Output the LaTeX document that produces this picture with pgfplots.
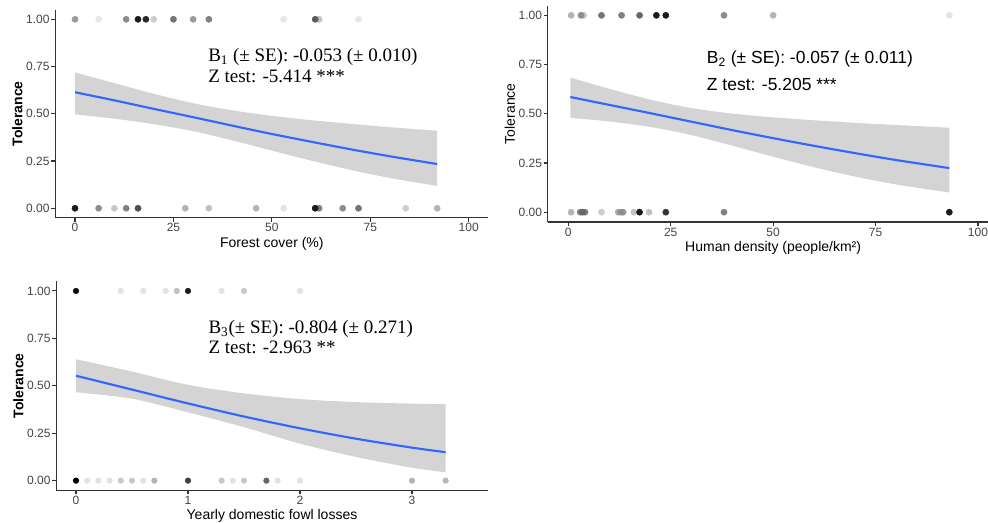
\documentclass[border=0pt]{standalone}
\usepackage{fontspec}
\setmainfont{Liberation Sans}
\newfontfamily\tms{Liberation Serif}
\usepackage{pgfplots}
\pgfplotsset{compat=1.18}
\usepgfplotslibrary{fillbetween}
\definecolor{fitblue}{HTML}{3366FF}
\definecolor{ribbon}{HTML}{D4D4D4}
\definecolor{ticktxt}{HTML}{444444}
\definecolor{axline}{HTML}{333333}

\pgfplotsset{
  colormap={bw}{gray(0cm)=(0); gray(1cm)=(1)},
  panel/.style={
    scale only axis, anchor=north west,
    axis lines=left, axis line style={-, line width=0.9pt, axline},
    ymin=-0.05, ymax=1.05,
    ytick={0,0.25,0.5,0.75,1}, yticklabels={0.00,0.25,0.50,0.75,1.00},
    tick align=outside, major tick length=3pt,
    tick style={line width=0.8pt, axline},
    tick label style={font=\fontsize{9}{10}\selectfont, text=ticktxt, inner sep=1.2pt},
    label style={font=\fontsize{10.5}{12}\selectfont},
    xlabel style={yshift=0.8pt},
    ylabel style={yshift=-2pt},
    ylabel={Tolerance},
    point meta min=0, point meta max=1,
    /pgf/number format/assume math mode=true,
  },
  pts/.style={scatter, only marks, mark=*, mark size=2.3pt, point meta=explicit,
    scatter/use mapped color={draw=mapped color, fill=mapped color}},
  fitline/.style={fitblue, line width=1.6pt, smooth},
}

\begin{document}
\begin{tikzpicture}

% forest cover
\begin{axis}[panel, at={(41.5pt,-7.39pt)}, width=324.8pt, height=155.9pt,
  xmin=-5, xmax=105, xtick={0,25,50,75,100},
  xlabel={Forest cover (\%)}, ylabel style={font=\bfseries\fontsize{10.5}{12}\selectfont}]
  \addplot[name path=u1, draw=none, smooth] coordinates {(0,0.719) (10,0.662) (20,0.606) (30,0.556) (40,0.518) (50,0.489) (60,0.466) (70,0.447) (80,0.429) (92,0.410)};
  \addplot[name path=l1, draw=none, smooth] coordinates {(0,0.497) (10,0.474) (20,0.445) (30,0.408) (40,0.359) (50,0.305) (60,0.252) (70,0.203) (80,0.160) (92,0.118)};
  \addplot[ribbon, draw=none] fill between[of=u1 and l1];
  \addplot[fitline] coordinates {(0,0.614) (10,0.571) (20,0.526) (30,0.482) (40,0.437) (50,0.393) (60,0.352) (70,0.312) (80,0.275) (92,0.234)};
  \addplot[pts] table[x=x, y=y, meta=g] {
x y g
0 1 0.6
6 1 0.9
13 1 0.55
16 1 0.1
18 1 0.15
20 1 0.8
25 1 0.45
30 1 0.6
34 1 0.5
53 1 0.9
62 1 0.75
61 1 0.35
72 1 0.9
0 0 0.1
6 0 0.55
10 0 0.78
13 0 0.5
16 0 0.3
28 0 0.7
34 0 0.75
46 0 0.7
53 0 0.88
62 0 0.5
61 0 0.1
68 0 0.55
72 0 0.45
84 0 0.8
92 0 0.7
};
\end{axis}

% human density
\begin{axis}[panel, at={(410.85pt,-4.13pt)}, width=338pt, height=162.4pt,
  xmin=-5, xmax=105, xtick={0,25,50,75,100},
  xlabel={Human density (people/km²)}]
  \addplot[name path=u2, draw=none, smooth] coordinates {(0.5,0.684) (10,0.627) (20,0.572) (30,0.529) (40,0.501) (50,0.482) (60,0.467) (70,0.454) (80,0.443) (93,0.429)};
  \addplot[name path=l2, draw=none, smooth] coordinates {(0.5,0.479) (10,0.461) (20,0.433) (30,0.392) (40,0.338) (50,0.282) (60,0.228) (70,0.181) (80,0.141) (93,0.100)};
  \addplot[ribbon, draw=none] fill between[of=u2 and l2];
  \addplot[fitline] coordinates {(0.5,0.585) (10,0.545) (20,0.503) (30,0.460) (40,0.417) (50,0.376) (60,0.337) (70,0.300) (80,0.265) (93,0.224)};
  \addplot[pts] table[x=x, y=y, meta=g] {
x y g
0.7 1 0.7
3.7 1 0.75
3.1 1 0.55
8.1 1 0.45
13 1 0.5
17.4 1 0.4
21.5 1 0.1
23.8 1 0.1
38 1 0.55
50 1 0.7
93 1 0.88
0.7 0 0.7
2.9 0 0.5
4.1 0 0.5
3.5 0 0.4
8.1 0 0.8
12.2 0 0.65
13.4 0 0.6
12.9 0 0.55
16 0 0.75
19.7 0 0.75
17.4 0 0.1
23.8 0 0.2
38 0 0.5
93 0 0.1
};
\end{axis}

% fowl losses
\begin{axis}[panel, at={(42.3pt,-211.1pt)}, width=323.4pt, height=156.5pt,
  xmin=-0.175, xmax=3.675, xtick={0,1,2,3},
  xlabel={Yearly domestic fowl losses}, ylabel style={font=\bfseries\fontsize{10.5}{12}\selectfont}]
  \addplot[name path=u3, draw=none, smooth] coordinates {(0,0.640) (0.5,0.575) (1,0.505) (1.5,0.460) (2,0.430) (2.5,0.414) (3,0.406) (3.3,0.403)};
  \addplot[name path=l3, draw=none, smooth] coordinates {(0,0.466) (0.5,0.432) (1,0.360) (1.5,0.282) (2,0.195) (2.5,0.125) (3,0.068) (3.3,0.044)};
  \addplot[ribbon, draw=none] fill between[of=u3 and l3];
  \addplot[fitline] coordinates {(0,0.553) (0.5,0.480) (1,0.407) (1.5,0.338) (2,0.276) (2.5,0.221) (3,0.174) (3.3,0.150)};
  \addplot[pts, mark size=2.1pt] table[x=x, y=y, meta=g] {
x y g
0 1 0.05
0.4 1 0.88
0.6 1 0.88
0.8 1 0.88
0.9 1 0.75
1.0 1 0.1
1.3 1 0.88
1.5 1 0.78
2.0 1 0.88
0 0 0.0
0.1 0 0.88
0.2 0 0.88
0.3 0 0.88
0.4 0 0.78
0.5 0 0.78
0.6 0 0.88
0.7 0 0.7
1.0 0 0.25
1.3 0 0.78
1.4 0 0.88
1.5 0 0.78
1.7 0 0.4
1.8 0 0.88
2.0 0 0.88
3.0 0 0.7
3.3 0 0.72
};
\end{axis}

\node[anchor=base west, inner sep=0pt, font=\tms\fontsize{14.25}{16}\selectfont] at (156pt,-46.3pt) {B\textsubscript{1} (± SE): -0.053 (± 0.010)};
\node[anchor=base west, inner sep=0pt, font=\tms\fontsize{14.25}{16}\selectfont] at (156pt,-62pt) {Z test: -5.414 ***};
\node[anchor=base west, inner sep=0pt, font=\fontsize{13.1}{15}\selectfont] at (530pt,-47.5pt) {B\textsubscript{2} (± SE): -0.057 (± 0.011)};
\node[anchor=base west, inner sep=0pt, font=\fontsize{13.1}{15}\selectfont] at (530pt,-68pt) {Z test: -5.205 ***};
\node[anchor=base west, inner sep=0pt, font=\tms\fontsize{14.25}{16}\selectfont] at (156.2pt,-250pt) {B\textsubscript{3}(± SE): -0.804 (± 0.271)};
\node[anchor=base west, inner sep=0pt, font=\tms\fontsize{14.25}{16}\selectfont] at (156.2pt,-265pt) {Z test: -2.963 **};

\pgfresetboundingbox
\useasboundingbox (0,0) rectangle (741pt,-392.25pt);
\end{tikzpicture}
\end{document}
